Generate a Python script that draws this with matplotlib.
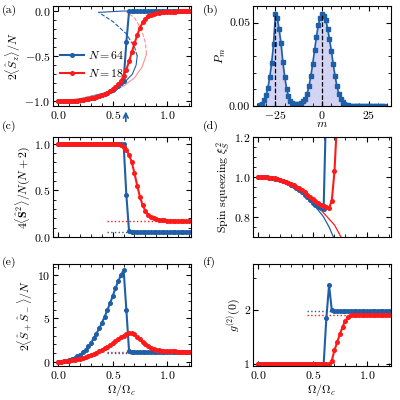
import numpy as np
import matplotlib
matplotlib.use("Agg")
from matplotlib import pyplot as plt
from matplotlib.ticker import NullFormatter

plt.rcParams['font.family'] = 'serif'
plt.rcParams['font.serif'] = ['cmr10', 'DejaVu Serif']
plt.rcParams['mathtext.fontset'] = 'cm'
plt.rcParams['axes.formatter.use_mathtext'] = True
plt.rcParams['font.size'] = 8.5
plt.rcParams['xtick.direction'] = 'in'
plt.rcParams['ytick.direction'] = 'in'
plt.rcParams['xtick.top'] = True
plt.rcParams['ytick.right'] = True
plt.rcParams['xtick.minor.visible'] = True
plt.rcParams['ytick.minor.visible'] = True
plt.rcParams['xtick.major.pad'] = 2
plt.rcParams['ytick.major.pad'] = 2
plt.rcParams['axes.labelpad'] = 1

BLUE = '#1f5fa8'
RED = '#ff1a1a'

# common grid Omega/Omega_c
x = np.round(np.arange(0, 1.2001, 0.025), 3)

# (a) 2<Sz>/N
a_low = [-1, -1, -1, -.998, -.997, -.995, -.993, -.99, -.987, -.983, -.978, -.973, -.967,
         -.96, -.952, -.943, -.932, -.92, -.905, -.89]
a_blue = a_low + [-.87, -.85, -.825, -.8, -.77, -.35, -.01] + [-0.004] * 22
a_red = a_low + [-.86, -.84, -.81, -.77, -.72, -.65, -.56, -.46, -.36, -.27, -.19, -.13, -.09,
                 -.06, -.045, -.035, -.028, -.023, -.02, -.017, -.015,
                 -.013, -.012, -.011, -.01, -.01, -.009, -.009, -.008]
# mean-field branches
mf_blue_x = [0, 0.2, 0.45, 0.6, 0.68, 0.715, 0.725]
mf_blue_y = [-1, -0.97, -0.9, -0.8, -0.7, -0.6, -0.5]
mf_blue_dx = [0.725, 0.7, 0.62, 0.5, 0.37]
mf_blue_dy = [-0.5, -0.4, -0.25, -0.12, -0.02]
mf_blue_ux = [0.37, 0.6, 1.2]
mf_blue_uy = [-0.02, -0.005, 0]
mf_red_x = [0, 0.2, 0.45, 0.6, 0.7, 0.77, 0.81]
mf_red_y = [-1, -0.97, -0.91, -0.83, -0.74, -0.62, -0.48]
mf_red_dx = [0.81, 0.8, 0.76, 0.7, 0.63]
mf_red_dy = [-0.48, -0.35, -0.2, -0.08, -0.02]
mf_red_ux = [0.63, 0.8, 1.2]
mf_red_uy = [-0.02, -0.008, 0]

# (b) P_m
m = np.arange(-33, 34)
p_m = ([0.0008, 0.0015, 0.0035, 0.0065, 0.011, 0.0175, 0.026, 0.037]
       + [0.055, 0.0526, 0.0459, 0.0376, 0.0263, 0.0174, 0.0105, 0.0058, 0.0033, 0.0019,
          0.0012, 0.001, 0.001, 0.0012, 0.0018, 0.0029, 0.0045, 0.0074, 0.0119, 0.0179,
          0.0252, 0.0334, 0.0415, 0.0485, 0.053, 0.055]
       + [0.054, 0.0515, 0.0465, 0.04, 0.033, 0.025, 0.0179, 0.0119, 0.0074, 0.0043,
          0.0024, 0.0013, 0.0008, 0.0005, 0.0003, 0.0002]
       + [0.0001] * 17)
b_peaks = [-25, 0]

# (c) 4<S^2>/N(N+2)
c_blue = [1.0] * 24 + [0.99, 0.45, 0.06] + [0.05] * 22
c_red = [1.0] * 21 + [.995, .99, .98, .96, .93, .88, .8, .68, .55, .43, .34, .28, .24, .215, .2,
                      .19, .185, .18, .178, .175, .173, .172, .171, .17, .17, .17, .17, .17]
c_dot_blue, c_dot_red = 0.05, 0.17

# (d) spin squeezing
d_blue = [1.0, 1.0, .999, .998, .997, .995, .992, .989, .985, .98, .975, .969, .962, .954,
          .945, .935, .924, .912, .898, .884, .87, .858, .85, .845, .84, 1.4]
d_red = [1.0, 1.0, .999, .998, .997, .995, .993, .99, .986, .982, .977, .972, .966, .959,
         .951, .943, .933, .923, .912, .9, .888, .878, .87, .862, .855, .848, .845, .88, 1.03, 1.3]
d_mf_blue_x = [0, 0.2, 0.4, 0.5, 0.6, 0.65, 0.69]
d_mf_blue_y = [1, 0.985, 0.92, 0.87, 0.8, 0.75, 0.7]
d_mf_red_x = [0, 0.2, 0.4, 0.5, 0.6, 0.7, 0.76]
d_mf_red_y = [1, 0.985, 0.925, 0.88, 0.82, 0.76, 0.7]

# (e) 2<S+S->/N
e_blue = [0, .01, .04, .09, .17, .28, .42, .6, .82, 1.08, 1.4, 1.77, 2.2, 2.7, 3.25, 3.85,
          4.5, 5.2, 5.95, 6.75, 7.6, 8.5, 9.3, 10.0, 10.6, 6.0, 1.2] + [1.1] * 22
e_red = [0, .01, .03, .06, .1, .15, .21, .28, .36, .45, .55, .66, .78, .91, 1.05, 1.2, 1.37,
         1.55, 1.74, 1.94, 2.15, 2.37, 2.6, 2.82, 3.02, 3.2, 3.3, 3.3, 3.15, 2.9, 2.6, 2.3, 2.0,
         1.78, 1.6, 1.47, 1.38, 1.32, 1.27, 1.24, 1.22, 1.2, 1.19, 1.18, 1.17, 1.17, 1.16,
         1.16, 1.16]
e_dot_blue, e_dot_red = 1.02, 1.1

# (f) g2(0)
f_blue = [1.0] * 25 + [1.8, 2.75, 2.0, 1.98] + [1.97] * 20
f_red = [1.0] * 27 + [1.05, 1.2, 1.33, 1.47, 1.62, 1.75, 1.83, 1.87, 1.88] + [1.88] * 13
f_dot_blue, f_dot_red = 1.97, 1.88

fig = plt.figure(figsize=(4, 4), dpi=100)
W, H = 400, 400
def box(l, t, r, b):
    return fig.add_axes([l / W, 1 - b / H, (r - l) / W, (b - t) / H])

axa = box(53, 6, 191, 106)
axb = box(253, 6, 391, 106)
axc = box(53, 137, 191, 237)
axd = box(253, 137, 391, 237)
axe = box(53, 264, 191, 366)
axf = box(253, 264, 391, 366)

mk = dict(marker='o', ms=2.6, lw=1.5)

# (a)
axa.plot(mf_blue_x, mf_blue_y, color=BLUE, lw=0.8)
axa.plot(mf_blue_dx, mf_blue_dy, color=BLUE, lw=0.8, ls='--')
axa.plot(mf_blue_ux, mf_blue_uy, color=BLUE, lw=0.8)
axa.plot(mf_red_x, mf_red_y, color='#ff9090', lw=0.8)
axa.plot(mf_red_dx, mf_red_dy, color='#ff9090', lw=0.8, ls='--')
axa.plot(mf_red_ux, mf_red_uy, color='#ff9090', lw=0.8)
axa.plot(x, a_blue, color=BLUE, label='$N=64$', **mk)
axa.plot(x, a_red, color=RED, label='$N=18$', **mk)
axa.set_xlim(-0.05, 1.22)
axa.set_ylim(-1.05, 0.05)
axa.set_ylabel(r'$2\langle\hat{S}_z\rangle/N$')
axa.legend(loc='center left', bbox_to_anchor=(0.0, 0.42), frameon=False,
           handlelength=2.0, handletextpad=0.4, borderaxespad=0.2, fontsize=8.5)
axa.annotate('', xy=(0.62, -1.08), xytext=(0.62, -1.25), xycoords='data',
             arrowprops=dict(arrowstyle='->', color=BLUE, lw=1.2), annotation_clip=False)

# (b)
axb.fill_between(m, p_m, color='#c8c8f0', alpha=0.8)
axb.plot(m, p_m, color=BLUE, marker='s', ms=2.6, lw=1.2)
for p in b_peaks:
    axb.axvline(p, ymax=0.055 / 0.06, color='k', ls='--', lw=0.9)
axb.set_xlim(-37, 37)
axb.set_ylim(0, 0.06)
axb.set_xticks([-25, 0, 25])
axb.set_yticks([0, 0.05])
axb.set_yticklabels(['0.00', '0.05'])
axb.set_xlabel('$m$', labelpad=-1)
axb.set_ylabel('$P_m$')

# (c)
axc.plot([0.45, 1.2], [c_dot_red] * 2, color=RED, ls=':', lw=1)
axc.plot([0.45, 1.2], [c_dot_blue] * 2, color=BLUE, ls=':', lw=1)
axc.plot(x, c_blue, color=BLUE, **mk)
axc.plot(x, c_red, color=RED, **mk)
axc.set_xlim(-0.05, 1.22)
axc.set_ylim(0, 1.07)
axc.set_yticks([0, 0.5, 1.0])
axc.set_ylabel(r'$4\langle\hat{\mathbf{S}}^2\rangle/N(N+2)$')

# (d)
axd.plot(d_mf_blue_x, d_mf_blue_y, color=BLUE, lw=0.9)
axd.plot(d_mf_red_x, d_mf_red_y, color=RED, lw=0.9)
axd.plot(x[:len(d_blue)], d_blue, color=BLUE, **mk)
axd.plot(x[:len(d_red)], d_red, color=RED, **mk)
axd.set_xlim(-0.05, 1.22)
axd.set_ylim(0.7, 1.2)
axd.set_yticks([0.8, 1.0, 1.2])
axd.set_ylabel(r'Spin squeezing $\xi_S^2$')

# (e)
axe.plot([0.45, 1.2], [e_dot_red] * 2, color=RED, ls=':', lw=1)
axe.plot([0.45, 1.2], [e_dot_blue] * 2, color=BLUE, ls=':', lw=1)
axe.plot(x, e_blue, color=BLUE, **mk)
axe.plot(x, e_red, color=RED, **mk)
axe.set_xlim(-0.05, 1.22)
axe.set_ylim(-0.5, 11.3)
axe.set_yticks([0, 5, 10])
axe.set_ylabel(r'$2\langle\hat{S}_+\hat{S}_-\rangle/N$')
axe.set_xlabel(r'$\Omega/\Omega_c$')

# (f)
axf.plot([0.45, 1.2], [f_dot_blue] * 2, color=BLUE, ls=':', lw=1)
axf.plot([0.45, 1.2], [f_dot_red] * 2, color=RED, ls=':', lw=1)
axf.plot(x, f_blue, color=BLUE, **mk)
axf.plot(x, f_red, color=RED, **mk)
axf.set_yscale('log')
axf.set_xlim(-0.05, 1.22)
axf.set_ylim(0.98, 3.6)
axf.set_yticks([1, 2])
axf.set_yticklabels(['1', '2'])
axf.yaxis.set_minor_formatter(NullFormatter())
axf.set_ylabel(r'$g^{(2)}(0)$')
axf.set_xlabel(r'$\Omega/\Omega_c$')

for ax in (axa, axc, axd, axe, axf):
    ax.set_xticks([0, 0.5, 1.0])
for ax in (axc, axd):
    ax.set_xticklabels([])

for lab, (lx, ly) in zip('abcdef', [(2, 10), (203, 10), (2, 126), (203, 126), (2, 262), (203, 262)]):
    fig.text(lx / W, 1 - ly / H, f'({lab})', fontsize=8.5, va='center')

fig.savefig('out.png', dpi=100)
